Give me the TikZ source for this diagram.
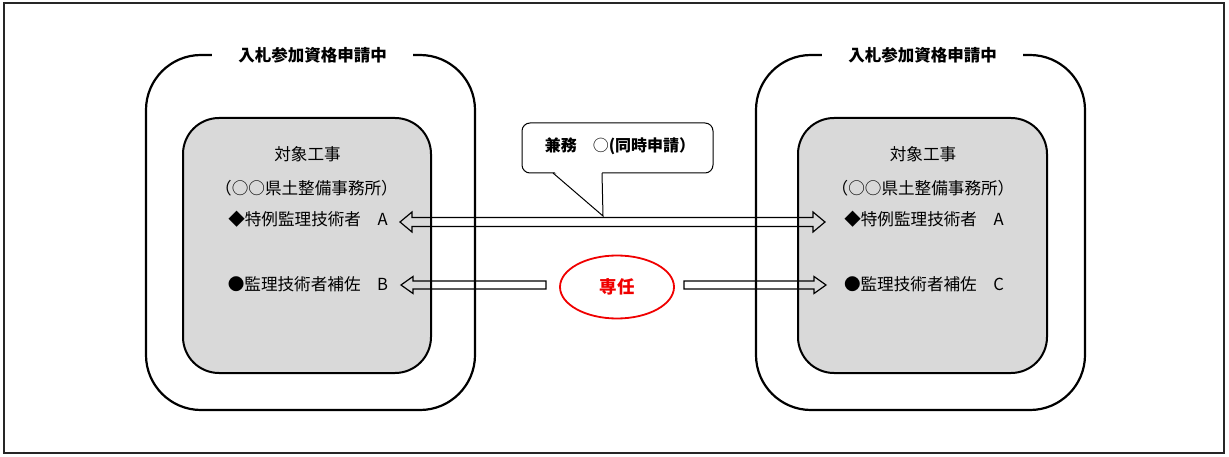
\documentclass[tikz,border=0pt]{standalone}
\usepackage{fontspec}
\setmainfont{Noto Sans CJK JP}
\usetikzlibrary{shapes.geometric,calc}
\definecolor{boxgray}{RGB}{217,217,217}
\definecolor{sred}{RGB}{240,0,0}
\begin{document}
\begin{tikzpicture}[x=1pt,y=-1pt,
  outerbox/.style={draw, line width=2.2pt, rounded corners=55pt, inner sep=0pt},
  innerbox/.style={draw, line width=2pt, rounded corners=36pt, fill=boxgray, inner sep=0pt},
  titlelbl/.style={fill=white, font=\fontsize{16.5}{18}\selectfont\bfseries, inner sep=0pt, minimum width=201pt, minimum height=12pt},
  body/.style={font=\fontsize{16.6}{18}\selectfont, inner sep=0pt},
  blockarrow/.style={line width=1.2pt, line join=miter},
]
\useasboundingbox (0,0) rectangle (1229,457);
\draw[line width=1.5pt, black!85] (4,3) rectangle (1224,453);

% outer boxes
\node[outerbox, minimum width=329pt, minimum height=355pt] (outL) at (310.5,232.5) {};
\node[outerbox, minimum width=329pt, minimum height=355pt] (outR) at (920.5,232.5) {};
\node[titlelbl] (ttlL) at (312.5,55) {入札参加資格申請中};
\node[titlelbl] (ttlR) at (922.5,55) {入札参加資格申請中};

% inner boxes
\node[innerbox, minimum width=248pt, minimum height=255pt] (inL) at (307,245.5) {};
\node[innerbox, minimum width=249pt, minimum height=255pt] (inR) at (922.5,245.5) {};

% texts left
\node[body] (t1L) at (307.5,154) {対象工事};
\node[body] (t2L) at (306.5,188) {（○○県土整備事務所）};
\node[body] (aL) at (308,219.5) {◆特例監理技術者　A};
\node[body] (bL) at (308,284.5) {●監理技術者補佐　B};
% texts right
\node[body] (t1R) at (923,154) {対象工事};
\node[body] (t2R) at (923,188) {（○○県土整備事務所）};
\node[body] (aR) at (924,219.5) {◆特例監理技術者　A};
\node[body] (cR) at (924,284.5) {●監理技術者補佐　C};

% top double arrow
\coordinate (dL) at (400,222);
\coordinate (dR) at (825,222);
\draw[blockarrow] (dL) -- ++(12,-10) -- ++(0,5.5) -- ($(dR)+(-12,-4.5)$) -- ++(0,-5.5) -- (dR)
  -- ++(-12,10) -- ++(0,-5.5) -- ($(dL)+(12,4.5)$) -- ++(0,5.5) -- cycle;

% callout
\node[draw, line width=1pt, rounded corners=8pt, minimum width=191pt, minimum height=50pt, inner sep=0pt] (call) at (617.5,148) {};
\node[body, font=\fontsize{16}{18}\selectfont\bfseries] (callt) at (620,146) {兼務　{\mdseries ○}(同時申請）};
\fill[white] (553.5,171) -- (603,216) -- (602,171) -- cycle;
\draw[line width=1pt] (553,173) -- (603,216) -- (602,173);

% senmu ellipse
\node[ellipse, draw=sred, line width=1.8pt, minimum width=114pt, minimum height=63pt, inner sep=0pt,
      text=sred, font=\fontsize{17.5}{20}\selectfont\bfseries] (sennin) at (617,287) {専任};

% bottom arrows
\coordinate (lT) at (401,285);
\coordinate (lS) at (546,285);
\draw[blockarrow] (lT) -- ++(12,-8.5) -- ++(0,4.5) -- ($(lS)+(0,-4)$) -- ($(lS)+(0,4)$)
  -- ($(lT)+(12,4)$) -- ++(0,4.5) -- cycle;
\coordinate (rT) at (826,285);
\coordinate (rS) at (684,285);
\draw[blockarrow] (rT) -- ++(-12,-8.5) -- ++(0,4.5) -- ($(rS)+(0,-4)$) -- ($(rS)+(0,4)$)
  -- ($(rT)+(-12,4)$) -- ++(0,4.5) -- cycle;
\end{tikzpicture}
\end{document}
